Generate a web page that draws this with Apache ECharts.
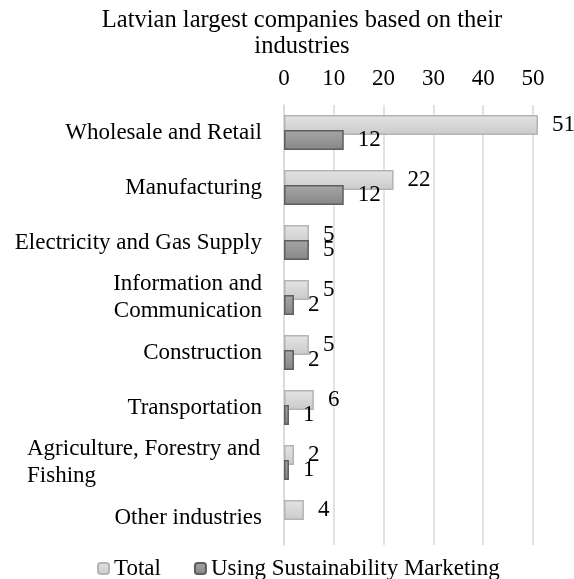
<!DOCTYPE html>
<html>
<head>
<meta charset="utf-8">
<script src="https://cdn.jsdelivr.net/npm/echarts@6/dist/echarts.min.js"></script>
<style>
  html, body { margin: 0; padding: 0; background: #fff; }
  #chart { width: 574px; height: 579px; }
</style>
</head>
<body>
<div id="chart"></div>
<script>
// data
const industries = [
  'Wholesale and Retail',
  'Manufacturing',
  'Electricity and Gas Supply',
  'Information and\nCommunication',
  'Construction',
  'Transportation',
  'Agriculture, Forestry and\nFishing',
  'Other industries'
]
const total = [51, 22, 5, 5, 5, 6, 2, 4]
const sustainability = [12, 12, 5, 2, 2, 1, 1, null]
const xTicks = [0, 10, 20, 30, 40, 50]

const font = '"Liberation Serif", "Times New Roman", serif'
const fs = 23

const myChart = echarts.init(document.getElementById('chart'))

const lightFill = new echarts.graphic.LinearGradient(0, 0, 0, 1, [
  { offset: 0, color: '#e4e4e4' },
  { offset: 1, color: '#cacaca' },
])
const darkFill = new echarts.graphic.LinearGradient(0, 0, 0, 1, [
  { offset: 0, color: '#a6a6a6' },
  { offset: 1, color: '#868686' },
])

const option = {
  animation: false,
  textStyle: { fontFamily: font, color: '#000' },
  title: {
    text: 'Latvian largest companies based on their\nindustries',
    left: 297,
    top: 3,
    textAlign: 'center',
    textStyle: {
      fontFamily: font,
      fontWeight: 'normal',
      fontSize: 24.5,
      lineHeight: 26,
      color: '#000',
    },
  },
  legend: {
    left: 92,
    top: 552,
    itemWidth: 11,
    itemHeight: 11,
    itemGap: 33,
    textStyle: { fontFamily: font, fontSize: fs, color: '#000' },
    data: ['Total', 'Using Sustainability Marketing'],
  },
  grid: {
    left: 284,
    right: 41,
    top: 105,
    bottom: 34,
  },
  xAxis: {
    type: 'value',
    position: 'top',
    min: xTicks[0],
    max: xTicks[xTicks.length - 1],
    interval: 10,
    axisLine: { show: false },
    axisTick: { show: false },
    axisLabel: {
      fontFamily: font,
      fontSize: fs,
      color: '#000',
      margin: 15,
    },
    splitLine: {
      show: true,
      lineStyle: { color: '#d9d9d9', width: 1.5 },
    },
  },
  yAxis: {
    type: 'category',
    inverse: true,
    data: industries,
    axisLine: { show: true, lineStyle: { color: '#d9d9d9', width: 1.5 } },
    axisTick: { show: false },
    axisLabel: {
      fontFamily: font,
      fontSize: fs,
      lineHeight: 27,
      color: '#000',
      margin: 22,
      formatter: function (v) {
        // the wrapped Agriculture label is left aligned inside its block
        if (v.indexOf('Agriculture') === 0) {
          return v.split('\n').map(s => '{l|' + s + '}').join('\n')
        }
        return v
      },
      rich: {
        l: { width: 235, align: 'left', fontFamily: font, fontSize: fs, lineHeight: 27, color: '#000' },
      },
    },
  },
  series: [
    {
      name: 'Total',
      type: 'bar',
      data: total,
      barWidth: 20,
      barGap: '-25%',
      clip: false,
      itemStyle: { color: lightFill, borderColor: '#b4b4b4', borderWidth: 1.5 },
      label: {
        show: true,
        position: 'right',
        distance: 14,
        fontFamily: font,
        fontSize: fs,
        color: '#000',
      },
    },
    {
      name: 'Using Sustainability Marketing',
      type: 'bar',
      data: sustainability,
      barWidth: 20,
      barGap: '-25%',
      clip: false,
      itemStyle: { color: darkFill, borderColor: '#5e5e5e', borderWidth: 1.5 },
      label: {
        show: true,
        position: 'right',
        distance: 14,
        fontFamily: font,
        fontSize: fs,
        color: '#000',
      },
    },
  ],
}

myChart.setOption(option)
</script>
</body>
</html>
